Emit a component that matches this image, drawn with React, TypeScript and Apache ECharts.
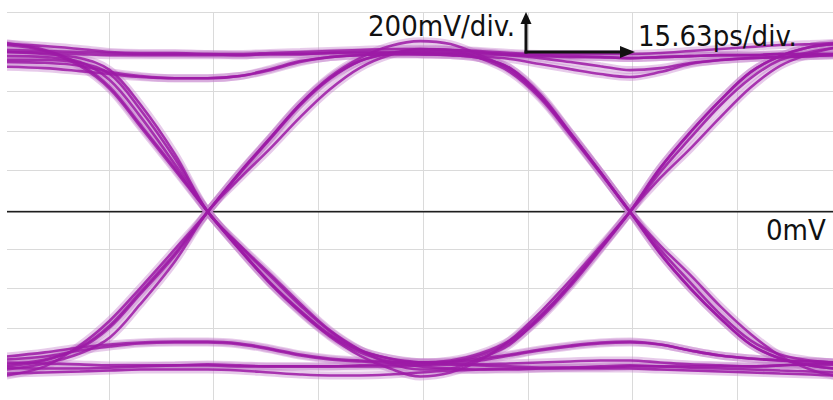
import React, { useEffect, useRef } from "react";
import * as echarts from "echarts";

// Time samples (ps) across the 2-UI window
const TIME_PS = [0.4, 6.1, 11.3, 15.8, 20.3, 25.5, 30.4, 35.2, 39.7, 44.2, 48.6, 53.1, 57.6, 62.1, 66.6, 71.0, 75.5, 80.0, 84.5, 89.0, 93.4, 97.9, 102.4, 106.9, 111.4, 115.8, 120.3, 123.8];

// Individual waveform traces (mV)
const TRACE_01 = [810, 805, 799, 794, 794, 794, 794, 794, 799, 799, 805, 810, 810, 810, 805, 799, 794, 789, 784, 784, 779, 784, 789, 794, 794, 799, 799, 799];
const TRACE_02 = [760, 755, 740, 708, 688, 677, 677, 688, 723, 764, 784, 794, 799, 799, 799, 789, 774, 749, 723, 698, 683, 708, 749, 769, 779, 784, 789, 794];
const TRACE_03 = [855, 820, 749, 632, 444, 221, 0, -191, -358, -500, -622, -703, -744, -764, -774, -774, -769, -764, -759, -754, -754, -764, -774, -779, -784, -779, -774, -774];
const TRACE_04 = [789, 784, 759, 667, 485, 241, 0, -191, -363, -510, -632, -729, -795, -835, -815, -754, -652, -510, -348, -175, 0, 200, 373, 540, 677, 769, 810, 830];
const TRACE_05 = [-784, -754, -688, -576, -409, -211, 0, 200, 373, 546, 683, 779, 840, 865, 850, 794, 718, 586, 400, 200, 0, -191, -358, -520, -652, -724, -754, -764];
const TRACE_06 = [-830, -784, -678, -551, -388, -190, 0, 200, 373, 546, 677, 764, 805, 820, 820, 810, 794, 779, 759, 738, 718, 728, 754, 769, 779, 784, 789, 794];
const TRACE_07 = [-764, -769, -774, -779, -779, -779, -779, -784, -784, -784, -784, -779, -774, -774, -774, -779, -784, -790, -790, -790, -784, -784, -784, -784, -784, -779, -774, -774];
const TRACE_08 = [-734, -713, -688, -673, -663, -658, -658, -668, -693, -724, -744, -754, -759, -764, -759, -744, -724, -698, -678, -663, -658, -673, -703, -729, -744, -754, -759, -764];
const TRACE_09 = [-790, -795, -795, -790, -784, -779, -774, -779, -784, -784, -784, -784, -784, -779, -764, -729, -663, -541, -378, -191, 0, 221, 403, 566, 708, 789, 835, 850];
const TRACE_10 = [820, 815, 810, 805, 800, 799, 799, 794, 799, 799, 805, 805, 805, 799, 794, 779, 728, 596, 400, 200, 0, -211, -388, -541, -673, -744, -779, -795];
const TRACE_11 = [-800, -769, -719, -637, -470, -252, 0, 170, 320, 480, 620, 730, 795, 825, 820, 779, 708, 576, 390, 195, 0, -211, -388, -541, -673, -744, -779, -795];
const TRACE_12 = [810, 799, 779, 718, 546, 292, 0, -170, -315, -465, -600, -700, -770, -800, -795, -744, -673, -531, -368, -185, 0, 221, 403, 566, 708, 789, 835, 850];
const TRACE_13 = [770, 770, 755, 698, 520, 270, 0, -175, -325, -475, -605, -700, -745, -764, -764, -754, -729, -703, -683, -668, -663, -673, -703, -729, -744, -754, -759, -764];
const TRACE_14 = [-774, -749, -693, -586, -419, -221, 0, 195, 368, 540, 673, 764, 800, 810, 810, 805, 799, 794, 789, 784, 779, 784, 789, 794, 794, 799, 799, 799];
const TRACE_15 = [-749, -734, -703, -683, -668, -663, -663, -673, -698, -729, -749, -759, -764, -764, -754, -719, -652, -531, -368, -185, 0, 170, 320, 480, 630, 740, 800, 830];
const TRACE_16 = [735, 728, 713, 698, 683, 677, 677, 688, 718, 759, 784, 794, 799, 799, 794, 779, 728, 586, 395, 200, 0, -170, -320, -480, -620, -730, -800, -830];
const TRACE_17 = [845, 815, 739, 622, 434, 211, 0, -195, -363, -505, -627, -713, -759, -784, -795, -800, -800, -795, -790, -784, -779, -784, -790, -795, -800, -805, -810, -815];
const TRACE_18 = [-820, -815, -810, -805, -800, -800, -800, -805, -815, -825, -830, -830, -825, -815, -805, -800, -795, -795, -795, -795, -795, -800, -805, -810, -815, -820, -825, -830];
const TRACE_19 = [850, 840, 825, 810, 805, 805, 800, 800, 805, 810, 815, 820, 825, 825, 820, 815, 805, 800, 800, 800, 800, 805, 815, 825, 835, 845, 850, 855];

const TRACES = [TRACE_01, TRACE_02, TRACE_03, TRACE_04, TRACE_05, TRACE_06, TRACE_07, TRACE_08, TRACE_09, TRACE_10, TRACE_11, TRACE_12, TRACE_13, TRACE_14, TRACE_15, TRACE_16, TRACE_17, TRACE_18, TRACE_19];

const PS_PER_DIV = 15.63;
const X_DIVS = 8;
const MV_PER_DIV = 200;
const Y_MIN = -1000;
const Y_MAX = 1000;

const V_LABEL = "200mV/div.";
const H_LABEL = "15.63ps/div.";
const ZERO_LABEL = "0mV";

const FONT = '29px "DejaVu Sans Condensed", "Liberation Sans", Arial, sans-serif';

export default function App() {
  const ref = useRef<HTMLDivElement>(null);

  useEffect(() => {
    if (!ref.current) return;
    const chart = echarts.init(ref.current, null, { renderer: "svg" });
    const xMax = PS_PER_DIV * X_DIVS;

    const series: any[] = [];
    series.push({
      type: "line",
      xAxisIndex: 1,
      yAxisIndex: 1,
      data: [[0, 0], [xMax, 0]],
      showSymbol: false,
      silent: true,
      lineStyle: { color: "#1e1e1e", width: 1.7 },
      z: 1,
    });
    TRACES.forEach((tr) => {
      const data = TIME_PS.map((t, i) => [t, tr[i]]);
      series.push({
        type: "line",
        xAxisIndex: 1,
        yAxisIndex: 1,
        data,
        showSymbol: false,
        silent: true,
        smooth: 0.35,
        lineStyle: { color: "#c47ccb", width: 8, opacity: 0.4 },
        z: 2,
      });
      series.push({
        type: "line",
        xAxisIndex: 1,
        yAxisIndex: 1,
        data,
        showSymbol: false,
        silent: true,
        smooth: 0.35,
        lineStyle: { color: "#9c1aa6", width: 2.6, opacity: 0.85 },
        z: 3,
      });
    });

    const hiddenAxis = {
      axisLine: { show: false },
      axisTick: { show: false },
      axisLabel: { show: false },
    };

    chart.setOption({
      animation: false,
      backgroundColor: "#ffffff",
      grid: [
        { left: 4, right: 0, top: 12.5, bottom: 2 },
        { left: 4, right: 0, top: 14.5, bottom: 0 },
      ],
      xAxis: [
        {
          gridIndex: 0, type: "value", min: 0, max: xMax, interval: PS_PER_DIV, ...hiddenAxis,
          splitLine: { show: true, lineStyle: { color: "#dadada", width: 1 } },
        },
        {
          gridIndex: 1, type: "value", min: 0, max: xMax, interval: PS_PER_DIV, ...hiddenAxis,
          splitLine: { show: false },
        },
      ],
      yAxis: [
        {
          gridIndex: 0, type: "value", min: Y_MIN, max: Y_MAX, interval: MV_PER_DIV, ...hiddenAxis,
          splitLine: { show: true, lineStyle: { color: "#dadada", width: 1 } },
        },
        {
          gridIndex: 1, type: "value", min: Y_MIN, max: Y_MAX, interval: MV_PER_DIV, ...hiddenAxis,
          splitLine: { show: false },
        },
      ],
      series,
      graphic: [
        { type: "rect", z: 50, silent: true, shape: { x: 0, y: 0, width: 7, height: 409 }, style: { fill: "#ffffff" } },
        { type: "line", z: 100, silent: true, shape: { x1: 526, y1: 53.5, x2: 526, y2: 22 }, style: { stroke: "#111", lineWidth: 3 } },
        { type: "polygon", z: 100, silent: true, shape: { points: [[526, 12], [520.5, 24], [531.5, 24]] }, style: { fill: "#111" } },
        { type: "line", z: 100, silent: true, shape: { x1: 524.5, y1: 52, x2: 622, y2: 52 }, style: { stroke: "#111", lineWidth: 3 } },
        { type: "polygon", z: 100, silent: true, shape: { points: [[635, 52], [620, 46], [620, 58]] }, style: { fill: "#111" } },
        { type: "text", z: 100, silent: true, x: 368, y: 26, style: { text: V_LABEL, font: FONT, fill: "#111", align: "left", verticalAlign: "middle", textAlign: "left", textVerticalAlign: "middle" } },
        { type: "text", z: 100, silent: true, x: 638, y: 36, style: { text: H_LABEL, font: FONT, fill: "#111", align: "left", verticalAlign: "middle", textAlign: "left", textVerticalAlign: "middle" } },
        { type: "text", z: 100, silent: true, x: 766, y: 230, style: { text: ZERO_LABEL, font: FONT, fill: "#111", align: "left", verticalAlign: "middle", textAlign: "left", textVerticalAlign: "middle" } },
      ],
    });

    return () => chart.dispose();
  }, []);

  return (
    <div
      ref={ref}
      style={{ position: "fixed", left: 0, top: 0, width: 842, height: 409, background: "#ffffff" }}
    />
  );
}
